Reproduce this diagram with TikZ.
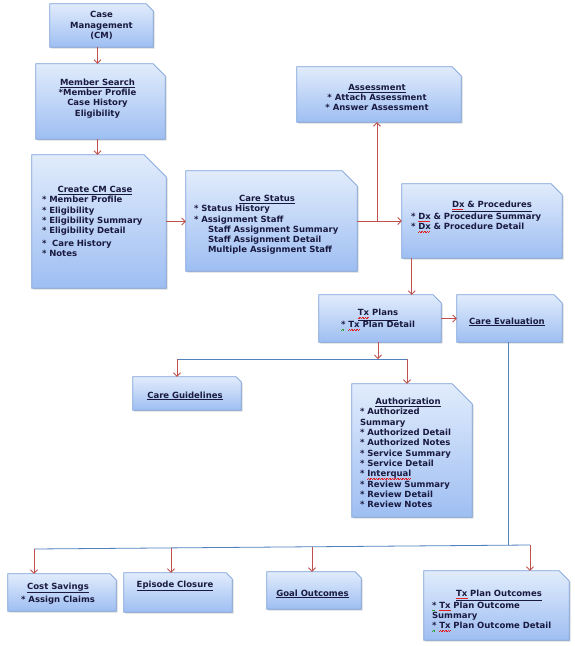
\documentclass[tikz,border=0pt]{standalone}
\usepackage{fontspec}
\setmainfont{DejaVu Sans}
\usetikzlibrary{arrows.meta, backgrounds, shadows}

\definecolor{boxtop}{HTML}{E1ECFC}
\definecolor{boxbot}{HTML}{9EBEF2}
\definecolor{boxline}{HTML}{7A9FD9}
\definecolor{txtc}{HTML}{1A1A40}
\definecolor{arrred}{HTML}{C0504D}
\definecolor{linkblue}{HTML}{4F81BD}
\definecolor{spellred}{HTML}{E02020}
\definecolor{spellgreen}{HTML}{30A030}

\newcommand{\bul}{*\ }
\newcommand{\head}[2][0pt]{\makebox[\linewidth]{\hspace*{#1}\underline{#2}}}
% spell-check marks
\newsavebox{\splbox}
\newcommand{\squig}[2]{\leavevmode\sbox{\splbox}{#2}\rlap{\color{#1}\leaders\hbox{\rule[-2.6pt]{0.8pt}{0.5pt}\rule[-2pt]{0.8pt}{0.5pt}}\hskip\wd\splbox}\usebox{\splbox}}
\newcommand{\spl}[1]{\squig{spellred}{#1}}
\newcommand{\gspl}[1]{\squig{spellgreen}{#1}}
\newcommand{\snipbox}[2]{%
  \path[boxfill] (#1.south west) -- (#1.north west) -- ([xshift=-#2]#1.north east)
    -- ([yshift=-#2]#1.north east) -- (#1.south east) -- cycle;}

\begin{document}
\begin{tikzpicture}[
        x=1pt, y=-1pt,
        boxnode/.style 2 args={rectangle, inner sep=0pt, minimum width=#1, minimum height=#2},
        boxfill/.style={top color=boxtop, bottom color=boxbot, draw=boxline, line width=0.8pt,
            drop shadow={shadow xshift=1.5pt, shadow yshift=-1.5pt, opacity=0.3}},
        txt/.style={font=\fontsize{8.5}{10.3}\selectfont\bfseries, text=txtc, inner sep=0pt},
        itembox/.style={txt, align=left, text width=#1},
        arr/.style={draw=arrred, line width=0.8pt, -{Straight Barb[length=3.5pt, width=7pt]}},
        link/.style={draw=linkblue, line width=0.8pt}
    ]
        \useasboundingbox (0,0) rectangle (574,646);

        % Boxes
        \node[boxnode={103pt}{43pt}] (cm) at (101.5,25.5) {};
        \node[boxnode={129pt}{75pt}] (ms) at (100.5,101.5) {};
        \node[boxnode={134pt}{133pt}] (ccm) at (99,221.5) {};
        \node[boxnode={171pt}{100pt}] (cs) at (271.5,221) {};
        \node[boxnode={164pt}{55pt}] (as) at (379,94.5) {};
        \node[boxnode={160pt}{74pt}] (dx) at (482,221) {};
        \node[boxnode={122pt}{47pt}] (tx) at (380,318.5) {};
        \node[boxnode={105pt}{47pt}] (ce) at (509.5,318.5) {};
        \node[boxnode={108pt}{33pt}] (cg) at (187,393.5) {};
        \node[boxnode={120pt}{133pt}] (au) at (412,450.5) {};
        \node[boxnode={108pt}{37pt}] (cost) at (62,592.5) {};
        \node[boxnode={108pt}{39pt}] (ep) at (178,592.5) {};
        \node[boxnode={94pt}{37pt}] (go) at (314,590.5) {};
        \node[boxnode={145pt}{69pt}] (tpo) at (496.5,605.5) {};

        % Texts
        \node[txt, align=center] (cm-t) at (cm) {Case\\Management\\(CM)};
        \node[txt, align=center] (ms-t) at ([xshift=-3pt, yshift=3pt]ms)
            {\underline{Member Search}\\{}*Member Profile\\Case History\\Eligibility};
        \node[itembox=106pt] (ccm-t) at ([xshift=-4pt]ccm)
            {\head{Create CM Case}\\\bul Member Profile\\\bul Eligibility\\\bul Eligibility Summary\\
             \bul Eligibility Detail\\[2pt]\bul\ Care History\\\bul Notes};
        \node[itembox=146pt] (cs-t) at ([xshift=-4.5pt, yshift=-4pt]cs)
            {\head{Care Status}\\\bul Status History\\\bul Assignment Staff\\
             \hspace*{14pt}Staff Assignment Summary\\\hspace*{14pt}Staff Assignment Detail\\
             \hspace*{14pt}Multiple Assignment Staff};
        \node[txt, align=center] (as-t) at ([xshift=-2pt, yshift=-3pt]as)
            {\underline{Assessment}\\\bul Attach Assessment\\\bul Answer Assessment};
        \node[itembox=134pt] (dx-t) at ([xshift=-4pt, yshift=4.5pt]dx)
            {\head[28pt]{\spl{Dx} \& Procedures}\\\bul \spl{Dx} \& Procedure Summary\\\bul \spl{Dx} \& Procedure Detail};
        \node[txt, align=center] (tx-t) at ([xshift=-2pt, yshift=-1.5pt]tx)
            {\underline{\spl{Tx} Plans}\\\gspl{*}\ \spl{Tx} Plan Detail};
        \node[txt] (ce-t) at ([xshift=-2.5pt, yshift=-3.5pt]ce) {\underline{Care Evaluation}};
        \node[txt] (cg-t) at ([xshift=-2pt, yshift=-2.5pt]cg) {\underline{Care Guidelines}};
        \node[itembox=96pt] (au-t) at ([xshift=-4pt, yshift=-2.5pt]au)
            {\head{Authorization}\\\bul Authorized\\Summary\\\bul Authorized Detail\\
             \bul Authorized Notes\\\bul Service Summary\\\bul Service Detail\\\bul \spl{Interqual}\\
             \bul Review Summary\\\bul Review Detail\\\bul Review Notes};
        \node[txt, align=center] (cost-t) at ([xshift=-4pt, yshift=-1pt]cost)
            {\underline{Cost Savings}\\[3pt]\bul Assign Claims};
        \node[txt] (ep-t) at ([xshift=-3pt, yshift=6.5pt]ep) {\underline{Episode Closure}};
        \node[txt] (go-t) at ([xshift=-1.5pt, yshift=-3.5pt]go) {\underline{Goal Outcomes}};
        \node[itembox=124pt] (tpo-t) at ([xshift=-2.5pt, yshift=-5pt]tpo)
            {\head[10pt]{\spl{Tx} Plan Outcomes}\\\gspl{*}\ \spl{Tx} Plan Outcome\\Summary\\
             \gspl{*}\ \spl{Tx} Plan Outcome Detail};

        % Box shapes
        \begin{scope}[on background layer]
            \fill[white] (0,0) rectangle (574,646);
            \snipbox{cm}{7pt}
            \snipbox{ms}{12pt}
            \snipbox{ccm}{22pt}
            \snipbox{cs}{15pt}
            \snipbox{as}{9pt}
            \snipbox{dx}{11pt}
            \snipbox{tx}{8pt}
            \snipbox{ce}{8pt}
            \snipbox{cg}{5pt}
            \snipbox{au}{20pt}
            \snipbox{cost}{6pt}
            \snipbox{ep}{6pt}
            \snipbox{go}{6pt}
            \snipbox{tpo}{10pt}
        \end{scope}

        % Edges
        \coordinate (dxout) at ([xshift=10pt]dx.south west);
        \coordinate (split) at (378,359);
        \coordinate (cgin) at (177,359);
        \coordinate (auin) at (407,359);
        \coordinate (drop) at (508,545);
        \coordinate (costin) at (34,549);
        \coordinate (epin) at (171,548);
        \coordinate (goin) at (312,547);
        \coordinate (tpoin) at (530,545);

        \draw[link] (cgin) -- (auin);
        \draw[link] (ce.south -| drop) -- (drop);
        \draw[link] (costin) -- (tpoin);

        \draw[arr] (cm.south -| ms-t) -- (ms.north -| ms-t);
        \draw[arr] (ms.south -| ms-t) -- (ccm.north -| ms-t);
        \draw[arr] (ccm.east) -- (ccm.east -| cs.west);
        \draw[arr] (cs.east) -- (cs.east -| dx.west);
        \draw[arr] (cs.east -| as-t) -- (as.south -| as-t);
        \draw[arr] (dxout) -- (dxout |- tx.north);
        \draw[arr] (tx.east) -- (ce.west);
        \draw[arr] (tx.south -| split) -- (split);
        \draw[arr] (cgin) -- (cgin |- cg.north);
        \draw[arr] (auin) -- (auin |- au.north);
        \draw[arr] (costin) -- (costin |- cost.north);
        \draw[arr] (epin) -- (epin |- ep.north);
        \draw[arr] (goin) -- (goin |- go.north);
        \draw[arr] (tpoin) -- (tpoin |- tpo.north);
    \end{tikzpicture}
\end{document}
